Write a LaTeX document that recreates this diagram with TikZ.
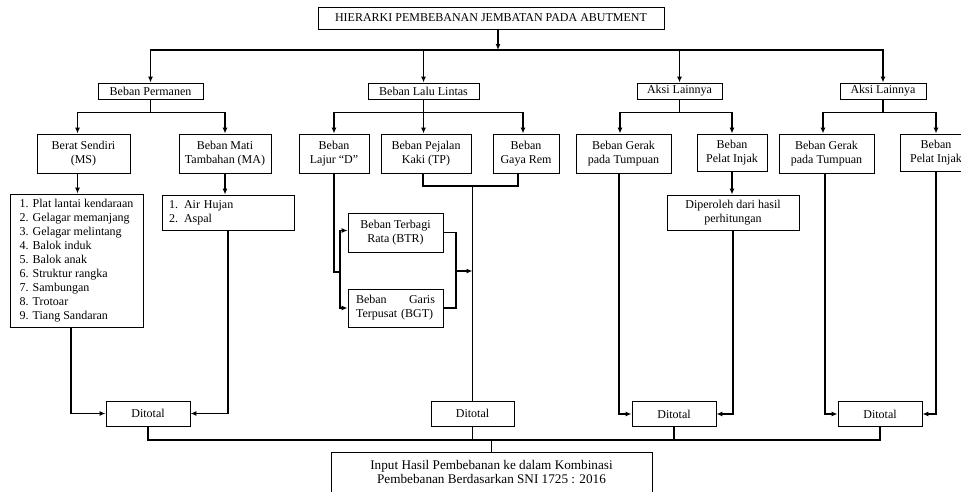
\documentclass[tikz,border=0pt]{standalone}
\usepackage{fontspec}
\setmainfont{Liberation Serif}
\usetikzlibrary{arrows.meta,calc}
\tikzset{box/.style={draw,line width=0.9pt,inner sep=0pt,minimum height=16pt,align=center,
    font=\fontsize{12}{14}\selectfont},
  tall/.style={box,minimum height=39pt},
  total/.style={box,minimum width=84pt,minimum height=25pt},
  link/.style={line width=1.3pt},
  arr/.style={link,-{Latex[length=6pt,width=5pt]}}}

\begin{document}
\begin{tikzpicture}[x=1pt,y=-1pt]
\useasboundingbox (0,0) rectangle (961,491);
\node[box,minimum width=346pt,minimum height=22pt] (top) at (491,18) {HIERARKI PEMBEBANAN JEMBATAN PADA ABUTMENT};
\node[box,minimum width=105pt] (perm) at (150.5,91) {Beban Permanen};
\node[box,minimum width=111pt] (lalu) at (423.5,91) {Beban Lalu Lintas};
\node[box,minimum width=85pt] (aksiA) at (679.5,91) {Aksi Lainnya};
\node[box,minimum width=86pt] (aksiB) at (883,91) {Aksi Lainnya};
\node[tall,minimum width=93pt] (ms) at (83.5,153.5) {Berat Sendiri\\(MS)};
\node[tall,minimum width=92pt] (ma) at (225,153.5) {Beban Mati\\Tambahan (MA)};
\node[tall,minimum width=70pt] (lajur) at (334,153.5) {Beban\\Lajur ``D''};
\node[tall,minimum width=90pt] (tp) at (426,153.5) {Beban Pejalan\\Kaki (TP)};
\node[tall,minimum width=66pt] (rem) at (526,153.5) {Beban\\Gaya Rem};
\node[tall,minimum width=95pt] (gerakA) at (623.5,153.5) {Beban Gerak\\pada Tumpuan};
\node[tall,minimum width=70pt,minimum height=37pt] (injakA) at (732,152.5) {Beban\\Pelat Injak};
\node[tall,minimum width=95pt] (gerakB) at (826.5,153.5) {Beban Gerak\\pada Tumpuan};
\node[tall,minimum width=72pt,minimum height=37pt] (injakB) at (936,152.5) {Beban\\Pelat Injak};
\node[box,align=left,minimum width=133pt,minimum height=133pt] (mslist) at (76.5,260.5)
  {1. Plat lantai kendaraan\\2. Gelagar memanjang\\3. Gelagar melintang\\4. Balok induk\\5. Balok anak\\6. Struktur rangka\\7. Sambungan\\8. Trotoar\\9. Tiang Sandaran};
\node[box,align=left,text width=118pt,inner xsep=7pt,minimum height=35pt] (malist) at (228,212.5) {1. Air Hujan\\2. Aspal};
\node[tall,minimum width=95pt] (btr) at (395.5,232.5) {Beban Terbagi\\Rata (BTR)};
\node[tall,minimum width=95pt,minimum height=38pt,text width=79pt,align=left] (bgt) at (395.5,308) {Beban\hfill Garis\\Terpusat (BGT)};
\node[box,minimum width=132pt,minimum height=35pt] (dip) at (733,212.5) {Diperoleh dari hasil\\perhitungan};
\node[total] (tot1) at (148,413.5) {Ditotal};
\node[total,minimum width=83pt] (tot2) at (472.5,413.5) {Ditotal};
\node[total] (tot3) at (674,414) {Ditotal};
\node[total] (tot4) at (880,414) {Ditotal};
\node[box,minimum width=321pt,minimum height=40pt,font=\fontsize{13.2}{14}\selectfont] (final) at (491.5,472)
  {Input Hasil Pembebanan ke dalam Kombinasi\\Pembebanan Berdasarkan SNI 1725 : 2016};
% junctions
\coordinate (bus) at (498,50);
\coordinate (lj) at (340,272);
\coordinate (rj) at (456,271);
\coordinate (tj) at (472.5,186);
\coordinate (fj) at (491.5,440);
% top level
\draw[arr] ([xshift=7]top.south) -- (bus);
\draw[arr] (bus) -| (perm.north);
\draw[arr] (bus) -| (lalu.north);
\draw[arr] (bus) -| (aksiA.north);
\draw[arr] (bus) -| (aksiB.north);
% beban permanen
\draw[arr] (perm.south) -- ++(0,13) -| ([xshift=-6]ms.north);
\draw[arr] (perm.south) -- ++(0,13) -| (ma.north);
\draw[arr] ([xshift=-6]ms.south) -- ([xshift=-6]ms.south |- mslist.north);
\draw[arr] (ma.south) -- (ma.south |- malist.north);
\draw[arr] ([xshift=-5.5]mslist.south) |- (tot1.west);
\draw[arr] (malist.south) |- (tot1.east);
% beban lalu lintas
\draw[arr] (lalu.south) -- ++(0,13) -| (lajur.north);
\draw[arr] (lalu.south) -- (lalu.south |- tp.north);
\draw[arr] (lalu.south) -- ++(0,13) -| ([xshift=-3]rem.north);
\draw[link] (lajur.south) |- (lj);
\draw[arr] (lj) |- ([yshift=2]btr.west);
\draw[arr] (lj) |- (bgt.west);
\draw[link] (btr.east) -| (rj);
\draw[link] (bgt.east) -| (rj);
\draw[arr] (rj) -- (rj -| tot2.north);
\draw[link] ([xshift=-3]tp.south) |- (tj);
\draw[link] ([xshift=-8]rem.south) |- (tj);
\draw[link] (tj) -- (tot2.north);
% aksi lainnya
\draw[arr] (aksiA.south) -- ++(0,13) -| ([xshift=-3.5]gerakA.north);
\draw[arr] (aksiA.south) -- ++(0,13) -| (injakA.north);
\draw[arr] (injakA.south) -- (injakA.south |- dip.north);
\draw[arr] ([xshift=-4.5]gerakA.south) |- (tot3.west);
\draw[arr] (dip.south) |- (tot3.east);
\draw[arr] (aksiB.south) -- ++(0,13) -| ([xshift=-3.5]gerakB.north);
\draw[arr] (aksiB.south) -- ++(0,13) -| (injakB.north);
\draw[arr] ([xshift=-1.5]gerakB.south) |- (tot4.west);
\draw[arr] (injakB.south) |- (tot4.east);
% totals
\draw[link] (tot1.south) |- (fj);
\draw[link] (tot2.south) |- (fj);
\draw[link] (tot3.south) |- (fj);
\draw[link] (tot4.south) |- (fj);
\draw[link] (fj) -- (final.north);
\end{tikzpicture}
\end{document}
